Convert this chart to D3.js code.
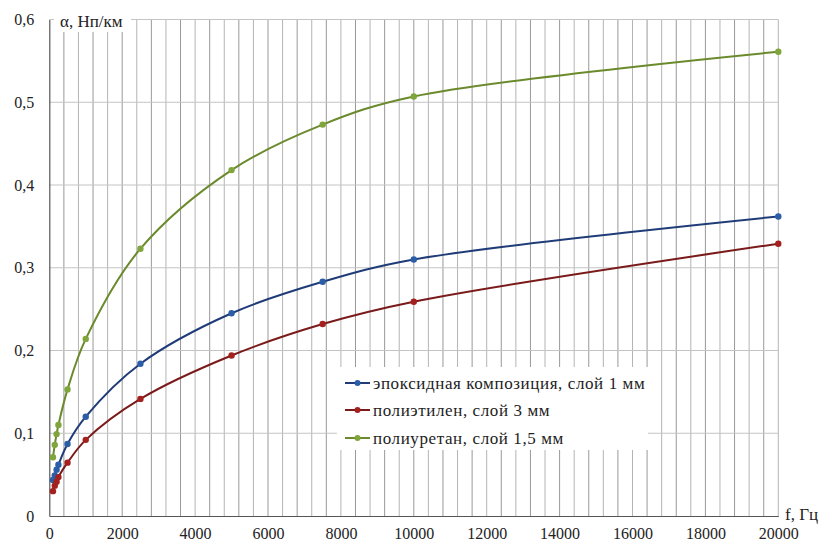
<!DOCTYPE html>
<html>
<head>
<meta charset="utf-8">
<script src="https://cdn.jsdelivr.net/npm/d3@7"></script>
<style>
  body { margin: 0; background: #fff; }
  svg text { font-family: "Liberation Serif", "Times New Roman", Tinos, "DejaVu Serif", "Noto Serif", serif !important; fill: #222; }
</style>
</head>
<body>
<script>
// frequencies, Hz
var freq = [100, 150, 200, 250, 500, 1000, 2500, 5000, 7500, 10000, 20000];
// attenuation, Np/km
var epoxy = [0.0435, 0.049, 0.056, 0.062, 0.087, 0.120, 0.184, 0.245, 0.283, 0.310, 0.362];
var polyeth = [0.030, 0.0367, 0.0415, 0.047, 0.0645, 0.092, 0.1415, 0.194, 0.232, 0.259, 0.329];
var polyur = [0.071, 0.086, 0.099, 0.110, 0.153, 0.214, 0.323, 0.418, 0.473, 0.507, 0.561];

var seriesNames = ["эпоксидная композиция, слой 1 мм", "полиэтилен, слой 3 мм", "полиуретан, слой 1,5 мм"];
var lineColors = ["#1f3c78", "#7a1a1a", "#6a8a2c"];
var dotColors = ["#2b5ea6", "#a3201e", "#7fa53c"];

var xTicks = d3.range(0, 20001, 2000);
var yTicks = [0, 0.1, 0.2, 0.3, 0.4, 0.5, 0.6];

var width = 825, height = 544;
var margin = {top: 19.5, right: 46.7, bottom: 28, left: 49.3};

var svg = d3.select("body").append("svg")
    .attr("width", width)
    .attr("height", height);

var x = d3.scaleLinear().domain([0, 20000]).range([margin.left, width - margin.right]);
var y = d3.scaleLinear().domain([0, 0.6]).range([height - margin.bottom, margin.top]);

// vertical grid every 400 Hz
svg.append("g").selectAll("line")
  .data(d3.range(400, 20001, 400))
  .enter().append("line")
    .attr("x1", d => x(d)).attr("x2", d => x(d))
    .attr("y1", y(0)).attr("y2", y(0.6))
    .attr("stroke", (d, i) => i % 2 ? "#b4b4b4" : "#999")
    .attr("stroke-width", 1);

// horizontal grid
svg.append("g").selectAll("line")
  .data(yTicks.slice(1))
  .enter().append("line")
    .attr("x1", x(0)).attr("x2", x(20000))
    .attr("y1", d => y(d)).attr("y2", d => y(d))
    .attr("stroke", "#c4c4c4");

// axes
var xAxis = d3.axisBottom(x).tickValues(xTicks).tickSize(0).tickPadding(12)
  .tickFormat(d3.format("d"));
var yAxis = d3.axisLeft(y).tickValues(yTicks).tickSize(0).tickPadding(15)
  .tickFormat(d => d === 0 ? "0" : String(d.toFixed(1)).replace(".", ","));

var gx = svg.append("g").attr("transform", `translate(0, ${y(0)})`).call(xAxis);
var gy = svg.append("g").attr("transform", `translate(${x(0)}, 0)`).call(yAxis);
[gx, gy].forEach(g => {
  g.select(".domain").attr("stroke", "#555").attr("stroke-width", 1.2);
  g.selectAll("text").attr("font-size", 16);
});

// axis titles
svg.append("rect").attr("x", 54).attr("y", 8).attr("width", 77).attr("height", 24).attr("fill", "#fff");
svg.append("text").attr("x", 60).attr("y", 27).attr("font-size", 17).text("α, Нп/км");
svg.append("text").attr("x", 785).attr("y", 520).attr("font-size", 17).text("f, Гц");

// curves
var allSeries = [epoxy, polyeth, polyur];
var line = d3.line()
  .x(d => x(d[0])).y(d => y(d[1]))
  .curve(d3.curveCatmullRom.alpha(0.5));

allSeries.forEach((vals, i) => {
  var pts = freq.map((f, j) => [f, vals[j]]);
  svg.append("path").datum(pts)
    .attr("d", line)
    .attr("fill", "none")
    .attr("stroke", lineColors[i])
    .attr("stroke-width", 2);
  svg.append("g").selectAll("circle")
    .data(pts)
    .enter().append("circle")
      .attr("cx", d => x(d[0])).attr("cy", d => y(d[1]))
      .attr("r", 3.2)
      .attr("fill", dotColors[i]);
});

// legend
var legend = svg.append("g");
legend.append("rect").attr("x", 337).attr("y", 367).attr("width", 311).attr("height", 83).attr("fill", "#fff");
var rowsY = [383, 410, 438];
seriesNames.forEach((name, i) => {
  var g = legend.append("g").attr("transform", `translate(0, ${rowsY[i]})`);
  g.append("line").attr("x1", 345).attr("x2", 370).attr("y1", 0).attr("y2", 0)
    .attr("stroke", lineColors[i]).attr("stroke-width", 2);
  g.append("circle").attr("cx", 357.5).attr("cy", 0).attr("r", 3).attr("fill", dotColors[i]);
  g.append("text").attr("x", 373).attr("y", 5.5).attr("font-size", 17)
    .attr("letter-spacing", 0.6).text(name);
});
</script>
</body>
</html>
